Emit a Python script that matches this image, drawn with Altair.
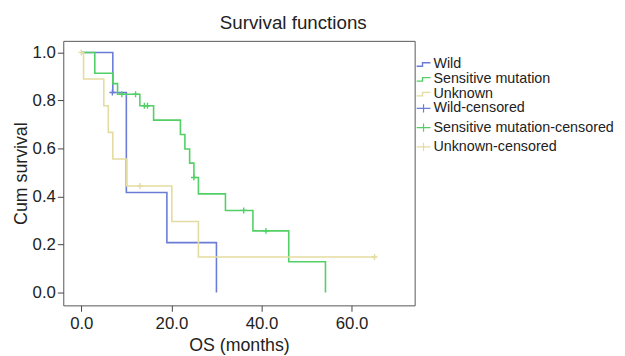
import altair as alt
import pandas as pd

# ---- data ----
groups = ["Wild", "Sensitive mutation", "Unknown"]
censor_names = ["Wild-censored", "Sensitive mutation-censored", "Unknown-censored"]
colors = ["#6a7cd6", "#52d066", "#e3dca0"]

wild_time = [0, 7.0, 10.0, 19.0, 30.0]
wild_surv = [1.0, 0.833, 0.417, 0.208, 0.0]

sens_time = [0, 3.0, 7.0, 8.05, 13.0, 16.05, 22.0, 23.0, 24.05, 25.0, 26.0, 32.0, 38.1, 46.05, 54.2]
sens_surv = [1.0, 0.913, 0.870, 0.826, 0.778, 0.718, 0.658, 0.598, 0.539, 0.479, 0.411, 0.342, 0.257, 0.128, 0.0]

unk_time = [0, 0.5, 5.0, 6.0, 7.0, 10.1, 20.1, 26.0, 65.1]
unk_surv = [1.0, 0.889, 0.778, 0.667, 0.556, 0.444, 0.296, 0.148, 0.148]

wild_cens_time = [6.9]
wild_cens_surv = [0.833]
sens_cens_time = [9.0, 12.05, 14.0, 14.7, 25.0, 36.05, 41.0]
sens_cens_surv = [0.826, 0.826, 0.778, 0.778, 0.479, 0.342, 0.257]
unk_cens_time = [0.0, 13.0, 65.1]
unk_cens_surv = [1.0, 0.444, 0.148]

x_ticks = [0, 20, 40, 60]
y_ticks = [0.0, 0.2, 0.4, 0.6, 0.8, 1.0]

# ---- tables ----
rows = []
for g, ts, ss in zip(groups, [wild_time, sens_time, unk_time], [wild_surv, sens_surv, unk_surv]):
    for t, s in zip(ts, ss):
        rows.append({"group": g, "time": t, "surv": s})
lines_df = pd.DataFrame(rows)

crows = []
for g, ts, ss in zip(censor_names, [wild_cens_time, sens_cens_time, unk_cens_time],
                     [wild_cens_surv, sens_cens_surv, unk_cens_surv]):
    for t, s in zip(ts, ss):
        crows.append({"cgroup": g, "time": t, "surv": s})
cens_df = pd.DataFrame(crows)

FONT = "Liberation Sans"

x_enc = alt.X("time:Q",
              scale=alt.Scale(domain=[-4, 74], nice=False, zero=False),
              axis=alt.Axis(values=x_ticks, format=".1f", title="OS (months)",
                            titleY=32, titleBaseline="top"))
y_enc = alt.Y("surv:Q",
              scale=alt.Scale(domain=[-0.0534, 1.0482], nice=False, zero=False),
              axis=alt.Axis(values=y_ticks, format=".1f", title="Cum survival",
                            titleX=-37, titleBaseline="alphabetic"))

step_path = "M-1,0.25L-0.15,0.25L-0.15,-0.25L1,-0.25"
cross_path = "M-1,0L1,0M0,-0.6L0,0.6"

lines = alt.Chart(lines_df).mark_line(interpolate="step-after", strokeWidth=1.6).encode(
    x=x_enc,
    y=y_enc,
    color=alt.Color("group:N",
                    scale=alt.Scale(domain=groups, range=colors),
                    legend=alt.Legend(title=None, orient="none", legendX=357, legendY=16,
                                      symbolType=step_path, symbolSize=196,
                                      symbolStrokeWidth=1.4, symbolFillColor="transparent",
                                      labelFontSize=14.5, labelFont=FONT, labelColor="#222",
                                      labelLimit=400,
                                      labelOffset=2, rowPadding=0, padding=0)),
)

cens = alt.Chart(cens_df).mark_point(shape="M-1,0L1,0M0,-1L0,1", size=36, filled=False,
                                     strokeWidth=1.4, opacity=1).encode(
    x="time:Q",
    y="surv:Q",
    stroke=alt.Stroke("cgroup:N",
                      scale=alt.Scale(domain=censor_names, range=colors),
                      legend=alt.Legend(title=None, orient="none", legendX=357, legendY=60.5,
                                        symbolType=cross_path, symbolSize=196,
                                        symbolStrokeWidth=1.2,
                                        labelFontSize=14.5, labelFont=FONT, labelColor="#222",
                                        labelLimit=400,
                                        labelOffset=2, rowPadding=4.5, padding=0)),
)

chart = alt.layer(lines, cens).properties(
    width=356,
    height=268,
    title=alt.TitleParams("Survival functions", fontSize=19, font=FONT, fontWeight="normal",
                          color="#222", anchor="middle", frame="group", dx=55, dy=16,
                          baseline="alphabetic", offset=9),
    autosize=alt.AutoSizeParams(type="none"),
    padding={"left": 56, "top": 31, "right": 205, "bottom": 49},
).configure_view(
    stroke="#555", strokeWidth=1
).configure_axis(
    grid=False, domain=False, ticks=True, tickSize=6, tickColor="#444",
    labelFont=FONT, labelFontSize=17, labelColor="#222", labelPadding=2,
    titleFont=FONT, titleFontSize=18, titleColor="#222", titleFontWeight="normal",
).configure_axisX(labelPadding=4)

chart.save("out.html", embed_options={"renderer": "svg", "actions": False})
